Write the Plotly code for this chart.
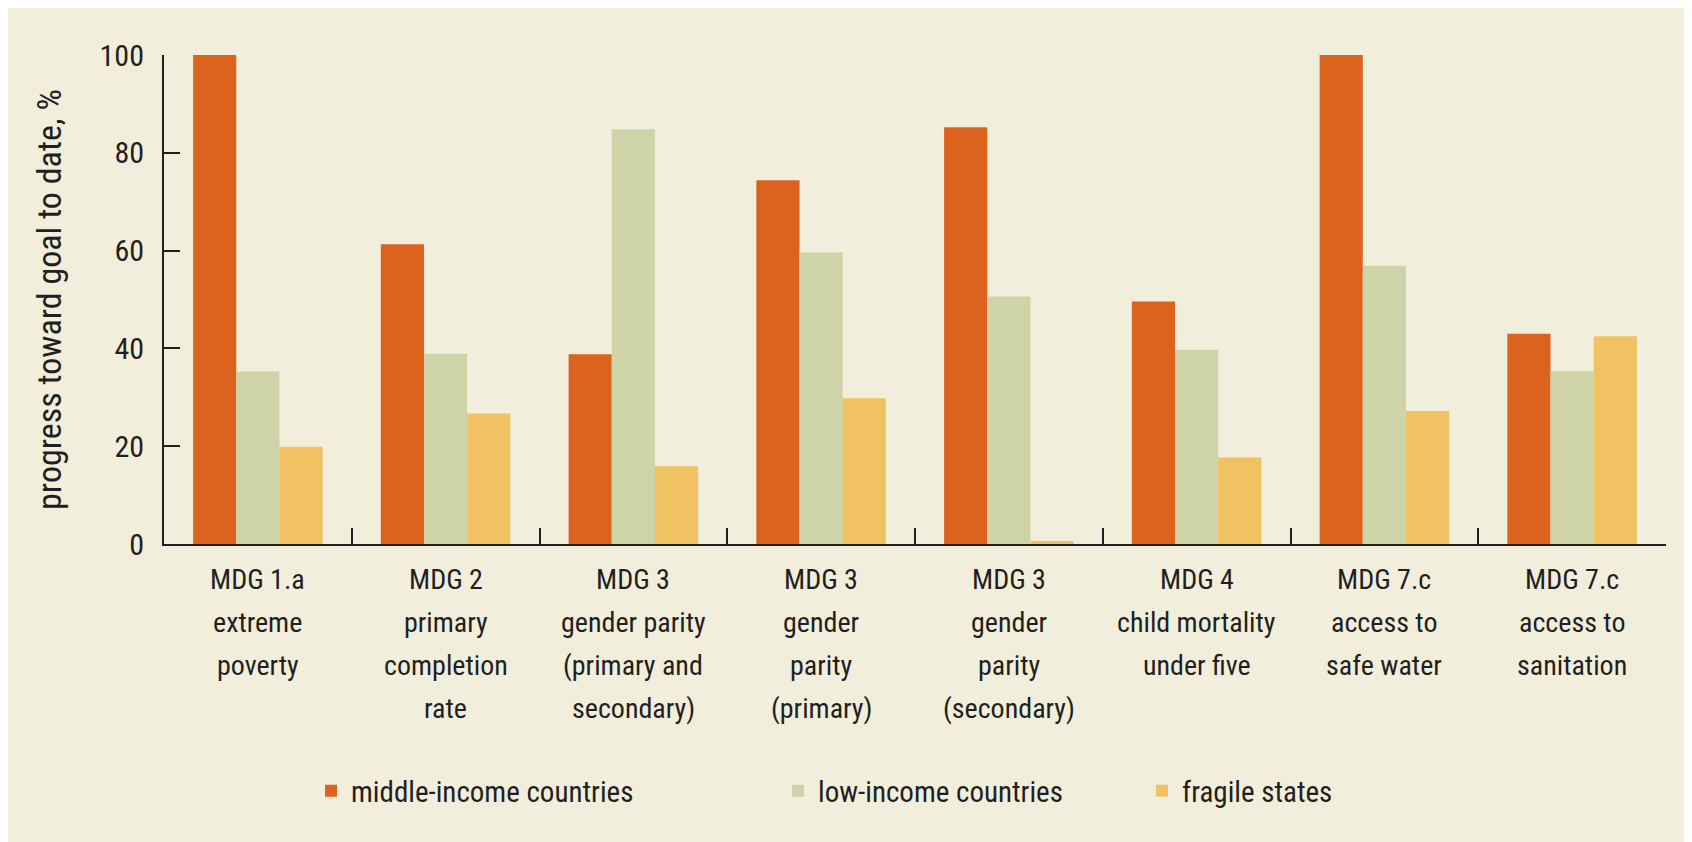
import plotly.graph_objects as go

categories = [
    "MDG 1.a<br>extreme<br>poverty",
    "MDG 2<br>primary<br>completion<br>rate",
    "MDG 3<br>gender parity<br>(primary and<br>secondary)",
    "MDG 3<br>gender<br>parity<br>(primary)",
    "MDG 3<br>gender<br>parity<br>(secondary)",
    "MDG 4<br>child mortality<br>under five",
    "MDG 7.c<br>access to<br>safe water",
    "MDG 7.c<br>access to<br>sanitation",
]
cat_ids = [f"c{i}" for i in range(len(categories))]

middle_income = [100, 61.3, 38.8, 74.4, 85.2, 49.6, 100, 43.0]
low_income = [35.3, 38.9, 84.8, 59.6, 50.6, 39.7, 56.9, 35.4]
fragile = [19.9, 26.7, 15.9, 29.8, 0.6, 17.7, 27.2, 42.5]

series_names = ["middle-income countries", "low-income countries", "fragile states"]
colors = ["#DC631E", "#CFD3A8", "#F1C262"]

# page offset from the browser's default body margin
OFF = 8
W, H = 1689 - OFF, 842 - OFF
PLOT_L, PLOT_R, PLOT_T, PLOT_B = 164, 1666, 55, 544  # page pixels
L = PLOT_L - OFF
T = PLOT_T - OFF
R = (W + OFF) - PLOT_R
B = (H + OFF) - PLOT_B
pw = PLOT_R - PLOT_L
ph = PLOT_B - PLOT_T
FONT = "Liberation Sans Narrow, Roboto Condensed, Roboto, sans-serif"
TXT = "#231f20"

fig = go.Figure()
legends = ["legend", "legend2", "legend3"]
for name, vals, col, lg in zip(series_names, [middle_income, low_income, fragile], colors, legends):
    fig.add_trace(go.Bar(
        x=cat_ids, y=vals, name=name, marker=dict(color=col, line=dict(width=0)),
        legend=lg, showlegend=True,
    ))

# category labels, one annotation per line for the wider line spacing
annotations = []
for cid, lab in zip(cat_ids, categories):
    for i, line in enumerate(lab.split("<br>")):
        annotations.append(dict(
            x=cid, y=0, xref="x", yref="y", text=line, showarrow=False,
            yanchor="middle", xanchor="center", yshift=-(35 + 43.3 * i),
            font=dict(family=FONT, size=28, color=TXT),
        ))


def px_x(p):
    return (p - PLOT_L) / pw


def px_y(p):
    return (PLOT_B - p) / ph


legend_left = [311, 778, 1142]
legend_common = dict(
    orientation="h", yanchor="middle", y=px_y(791), xanchor="left",
    bgcolor="rgba(0,0,0,0)", font=dict(family=FONT, size=29, color=TXT),
    itemclick=False, itemdoubleclick=False,
)

fig.update_layout(
    width=W, height=H,
    margin=dict(l=L, r=R, t=T, b=B, autoexpand=False),
    paper_bgcolor="#F2EEDC",
    plot_bgcolor="rgba(0,0,0,0)",
    showlegend=True,
    barmode="group", bargap=0.31, bargroupgap=0,
    font=dict(family=FONT, size=28, color=TXT),
    annotations=annotations,
    legend=dict(x=px_x(legend_left[0]), **legend_common),
    legend2=dict(x=px_x(legend_left[1]), **legend_common),
    legend3=dict(x=px_x(legend_left[2]), **legend_common),
    xaxis=dict(
        type="category", categoryorder="array", categoryarray=cat_ids,
        showticklabels=False, tickson="boundaries", ticks="inside", ticklen=16,
        tickwidth=2, tickcolor="#231f20", showline=True, linecolor="#231f20",
        linewidth=2, showgrid=False, zeroline=False,
    ),
    yaxis=dict(
        range=[0, 100], tickvals=[0, 20, 40, 60, 80, 100], ticks="inside",
        ticklen=16, tickwidth=2, tickcolor="#231f20", showline=True,
        linecolor="#231f20", linewidth=2, showgrid=False, zeroline=False,
        ticklabelstandoff=12, tickfont=dict(family=FONT, size=30, color=TXT),
        title=dict(text="progress toward goal to date, %", standoff=28,
                   font=dict(family=FONT, size=34, color=TXT)),
    ),
)

fig.write_html("out.html")
